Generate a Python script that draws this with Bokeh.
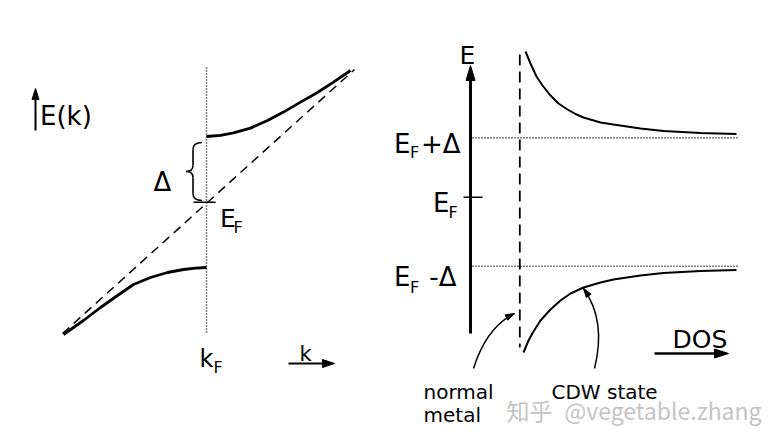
import numpy as np
from bokeh.plotting import figure
from bokeh.models import Range1d
from bokeh.core.properties import value
from bokeh.embed import file_html
from bokeh.resources import INLINE

# ---------------- values (pixel frame, y downward) ----
# Left panel: dispersion E(k) in the CDW state
disp_up_x = [206, 220, 233, 250, 267, 283, 300, 317, 333, 350]
disp_up_y = [136, 134.8, 132.4, 127.6, 120, 111.6, 101.6, 92, 81.6, 70]
disp_lo_x = [63, 83, 100, 117, 133, 150, 167, 183, 195, 206]
disp_lo_y = [334, 320, 307, 295, 284, 277, 272, 269, 267.6, 267]
free_x = [62, 354]          # free-electron (dashed) dispersion
free_y = [333, 69]
kF_x = 206
kF_span = [67, 333]
EF_left_y = 201.7
gap_top, gap_bot = 142, 200

# Right panel: density of states
dos_up_x = [525, 530, 536, 542, 550, 558, 567, 575, 583, 600, 613, 640, 663, 700, 736]
dos_up_y = [51, 63, 76, 85, 95, 103, 109, 113.5, 117, 122, 124, 128, 130.5, 132.5, 133.5]
dos_lo_x = [523, 528, 533, 540, 550, 560, 570, 583, 600, 613, 640, 663, 700, 736]
dos_lo_y = [352, 340, 331, 320, 309, 300, 293, 287, 282, 279, 275, 272.5, 270.5, 269.5]
normal_x = 519.3
normal_span = [54, 347]
E_plus, E_mid, E_minus = 137.3, 196.7, 265.7
level_span = [472, 737]

FONT = value("DejaVu Sans")

p = figure(width=784, height=437, output_backend="svg", toolbar_location=None,
           x_range=Range1d(0, 784), y_range=Range1d(437, 0), min_border=0,
           background_fill_color="white", border_fill_color="white")
p.axis.visible = False
p.grid.visible = False
p.outline_line_color = None


def head(tip, frm, length, width):
    tip = np.array(tip, float)
    d = tip - np.array(frm, float)
    d /= np.hypot(*d)
    n = np.array([-d[1], d[0]])
    base = tip - d * length
    a = base + n * width / 2
    b = base - n * width / 2
    return [tip[0], a[0], b[0]], [tip[1], a[1], b[1]]


def arrow(x0, y0, x1, y1, lw, hl, hw):
    hx, hy = head((x1, y1), (x0, y0), hl, hw)
    d = np.array([x1 - x0, y1 - y0], float)
    d /= np.hypot(*d)
    ex, ey = x1 - d[0] * hl * 0.6, y1 - d[1] * hl * 0.6
    p.line([x0, ex], [y0, ey], line_width=lw, line_color="black")
    p.patch(hx, hy, fill_color="black", line_color="black", line_width=1)


# ---------------- left panel ----------------
p.line([kF_x, kF_x], kF_span, line_dash="1 2", line_width=1.5, line_color="black")
p.line(free_x, free_y, line_dash="9 6", line_width=1.5, line_color="black")
p.line(disp_up_x, disp_up_y, line_width=2.8, line_color="black")
p.line(disp_lo_x, disp_lo_y, line_width=2.8, line_color="black")
p.line([193, 215], [EF_left_y, EF_left_y], line_width=1.6, line_color="black")

# curly brace for the gap
mid = (gap_top + gap_bot) / 2
bx, tipx, ex_ = 192.5, 185.5, 201.5
p.quadratic(x0=[ex_, bx, tipx, bx], y0=[gap_top, mid - 6, mid, gap_bot - 7],
            x1=[bx, tipx, bx, ex_], y1=[gap_top + 7, mid, mid + 6, gap_bot],
            cx=[bx, bx, bx, bx], cy=[gap_top, mid, mid, gap_bot],
            line_width=1.6, line_color="black")
p.line([bx, bx], [gap_top + 7, mid - 6], line_width=1.6, line_color="black")
p.line([bx, bx], [mid + 6, gap_bot - 7], line_width=1.6, line_color="black")

arrow(35, 130, 35, 88, 2, 11, 7)
arrow(288, 363, 334, 363, 2, 12, 8)

big = value("26px")
sub = value("16px")
p.text(x=[39.5], y=[115.5], text=["E(k)"], text_font=FONT, text_font_size=big,
       text_baseline="alphabetic", text_align="left")
p.text(x=[162], y=[181.7], text=["Δ"], text_font=FONT, text_font_size=big,
       text_baseline="alphabetic", text_align="center")
p.text(x=[219.5], y=[218.3], text=["E"], text_font=FONT, text_font_size=value("25px"),
       text_baseline="alphabetic", text_align="left")
p.text(x=[233], y=[226.7], text=["F"], text_font=FONT, text_font_size=sub,
       text_baseline="alphabetic", text_align="left")
p.text(x=[206], y=[358], text=["k"], text_font=FONT, text_font_size=value("24px"),
       text_baseline="alphabetic", text_align="center")
p.text(x=[213], y=[367], text=["F"], text_font=FONT, text_font_size=sub,
       text_baseline="alphabetic", text_align="left")
p.text(x=[305], y=[353.3], text=["k"], text_font=FONT, text_font_size=value("21px"),
       text_baseline="alphabetic", text_align="center")

# ---------------- right panel ----------------
arrow(470, 333, 470, 65, 3, 15, 9)
p.line([normal_x, normal_x], normal_span, line_dash="11 6", line_width=1.8, line_color="black")
p.line(level_span, [E_plus, E_plus], line_dash="1 2", line_width=1.5, line_color="black")
p.line(level_span, [E_minus, E_minus], line_dash="1 2", line_width=1.5, line_color="black")
p.line([463, 482], [E_mid, E_mid], line_width=1.6, line_color="black")
p.line(dos_up_x, dos_up_y, line_width=2, line_color="black")
p.line(dos_lo_x, dos_lo_y, line_width=2, line_color="black")
arrow(654, 353, 728, 353, 2.5, 14, 9)

# annotation arrows
for (x0, y0, cx, cy, x1, y1) in [(473, 368, 486, 327, 514, 313),
                                 (594, 368, 606, 320, 583, 288)]:
    hx, hy = head((x1, y1), (cx, cy), 9, 6)
    p.quadratic(x0=[x0], y0=[y0], x1=[x1], y1=[y1], cx=[cx], cy=[cy],
                line_width=1.5, line_color="black")
    p.patch(hx, hy, fill_color="black", line_color="black", line_width=1)

p.text(x=[467], y=[55], text=["E"], text_font=FONT, text_font_size=value("25px"),
       text_baseline="alphabetic", text_align="center")
# E_F + Δ
p.text(x=[393.5], y=[143.3], text=["E"], text_font=FONT, text_font_size=big,
       text_baseline="alphabetic", text_align="left")
p.text(x=[409.5], y=[152.3], text=["F"], text_font=FONT, text_font_size=sub,
       text_baseline="alphabetic", text_align="left")
p.text(x=[460], y=[143.3], text=["+Δ"], text_font=FONT, text_font_size=big,
       text_baseline="alphabetic", text_align="right")
# E_F
p.text(x=[432.5], y=[202.5], text=["E"], text_font=FONT, text_font_size=big,
       text_baseline="alphabetic", text_align="left")
p.text(x=[448], y=[212], text=["F"], text_font=FONT, text_font_size=sub,
       text_baseline="alphabetic", text_align="left")
# E_F - Δ
p.text(x=[393.5], y=[276.7], text=["E"], text_font=FONT, text_font_size=big,
       text_baseline="alphabetic", text_align="left")
p.text(x=[409.5], y=[286.7], text=["F"], text_font=FONT, text_font_size=sub,
       text_baseline="alphabetic", text_align="left")
p.text(x=[456], y=[276.7], text=["-Δ"], text_font=FONT, text_font_size=big,
       text_baseline="alphabetic", text_align="right")

p.text(x=[699.5], y=[339], text=["DOS"], text_font=FONT, text_font_size=value("25px"),
       text_baseline="alphabetic", text_align="center")
p.text(x=[423], y=[391], text=["normal"], text_font=FONT, text_font_size=value("20px"),
       text_baseline="alphabetic", text_align="left")
p.text(x=[423], y=[414], text=["metal"], text_font=FONT, text_font_size=value("20px"),
       text_baseline="alphabetic", text_align="left")
p.text(x=[551], y=[391], text=["CDW state"], text_font=FONT, text_font_size=value("20px"),
       text_baseline="alphabetic", text_align="left")

# watermark
p.text(x=[506], y=[409], text=["知乎"], text_font=value("Noto Sans CJK SC"),
       text_font_size=value("23px"), text_baseline="alphabetic", text_align="left",
       text_color="#c4c4c4")
p.text(x=[564], y=[409], text=["@vegetable.zhang"], text_font=value("Noto Sans CJK SC"),
       text_font_size=value("23px"), text_baseline="alphabetic", text_align="left",
       text_color="#c4c4c4")

open("out.html", "w").write(file_html(p, INLINE))
